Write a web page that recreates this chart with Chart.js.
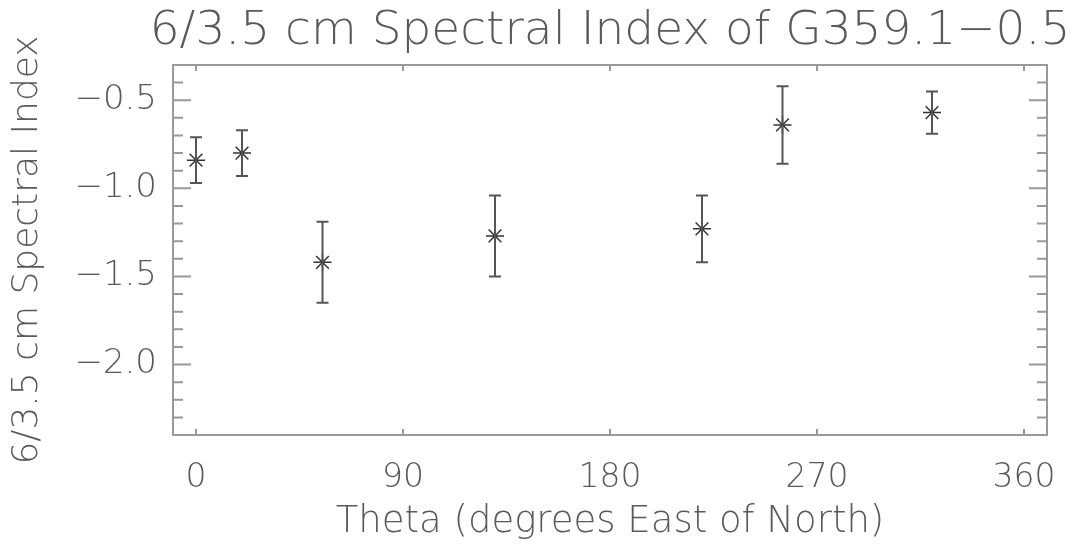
<!DOCTYPE html>
<html lang="en">
  <head>
    <meta charset="UTF-8" />
    <script src="https://cdn.jsdelivr.net/npm/chart.js"></script>
    <title>spectral index</title>
    <style>
      html, body { margin: 0; padding: 0; background: #fff; }
      #box { width: 1083px; height: 553px; }
    </style>
  </head>
  <body>
    <div id="box"><canvas id="grafico"></canvas></div>
  </body>
</html>

<script>
  // dados
  const titulo = "6/3.5 cm Spectral Index of G359.1\u22120.5";
  const tituloX = "Theta (degrees East of North)";
  const tituloY = "6/3.5 cm Spectral Index";

  const theta = [0, 20, 55, 130, 220, 255, 320];
  const indice = [-0.84, -0.80, -1.42, -1.27, -1.23, -0.64, -0.57];
  const erro = [0.13, 0.13, 0.23, 0.23, 0.19, 0.22, 0.12];

  const ticksX = [0, 90, 180, 270, 360];
  const ticksY = [-2.0, -1.5, -1.0, -0.5];
  const passoMenorY = 0.1;

  const corTexto = "#5a5a5a";
  const fonte = "'DejaVu Sans', sans-serif";

  // barras de erro, moldura e ticks para dentro (estilo IDL)
  const pluginIDL = {
    id: "idl",
    afterDatasetsDraw(chart) {
      const ctx = chart.ctx;
      const sx = chart.scales.x;
      const sy = chart.scales.y;
      const a = chart.chartArea;

      ctx.save();
      // barras de erro
      ctx.strokeStyle = "#555";
      ctx.lineWidth = 2;
      for (let i = 0; i < theta.length; i++) {
        const px = sx.getPixelForValue(theta[i]);
        const yTop = sy.getPixelForValue(indice[i] + erro[i]);
        const yBot = sy.getPixelForValue(indice[i] - erro[i]);
        ctx.beginPath();
        ctx.moveTo(px, yTop); ctx.lineTo(px, yBot);
        ctx.moveTo(px - 6, yTop); ctx.lineTo(px + 6, yTop);
        ctx.moveTo(px - 6, yBot); ctx.lineTo(px + 6, yBot);
        ctx.stroke();
      }

      // moldura
      ctx.strokeStyle = "#999";
      ctx.lineWidth = 2;
      ctx.strokeRect(a.left, a.top, a.right - a.left, a.bottom - a.top);

      // ticks do eixo x (baixo e cima)
      ctx.beginPath();
      ticksX.forEach(function (v) {
        const px = sx.getPixelForValue(v);
        ctx.moveTo(px, a.bottom); ctx.lineTo(px, a.bottom - 6);
        ctx.moveTo(px, a.top); ctx.lineTo(px, a.top + 6);
      });
      // ticks do eixo y (esquerda e direita)
      for (let v = sy.min + passoMenorY; v < sy.max - 1e-6; v += passoMenorY) {
        const py = sy.getPixelForValue(v);
        const maior = ticksY.some(function (t) { return Math.abs(t - v) < 1e-6; });
        const len = maior ? 18 : 10;
        ctx.moveTo(a.left, py); ctx.lineTo(a.left + len, py);
        ctx.moveTo(a.right, py); ctx.lineTo(a.right - len, py);
      }
      ctx.stroke();

      // titulo centralizado na area do grafico
      ctx.fillStyle = corTexto;
      ctx.font = "200 47px " + fonte;
      ctx.textAlign = "center";
      ctx.textBaseline = "alphabetic";
      ctx.fillText(titulo, (a.left + a.right) / 2, 44);
      ctx.restore();
    },
  };

  const pontos = theta.map(function (t, i) { return { x: t, y: indice[i] }; });

  const config = {
    type: "scatter",
    data: {
      datasets: [
        {
          label: "indice",
          data: pontos,
          pointStyle: "star",
          pointRadius: 9,
          pointHoverRadius: 9,
          borderColor: "#333",
          backgroundColor: "#333",
          borderWidth: 1.5,
        },
      ],
    },
    options: {
      responsive: true,
      maintainAspectRatio: false,
      animation: false,
      layout: { padding: { top: 65, right: 36, left: 0, bottom: 0 } },
      plugins: {
        legend: { display: false },
        title: { display: false },
        tooltip: { enabled: false },
      },
      scales: {
        x: {
          type: "linear",
          min: -10,
          max: 370,
          afterBuildTicks: function (s) { s.ticks = ticksX.map(function (v) { return { value: v }; }); },
          afterFit: function (s) { s.height = 118; },
          grid: { display: false, drawTicks: false },
          border: { display: false },
          ticks: {
            color: corTexto,
            padding: 24,
            maxRotation: 0,
            font: { family: fonte, size: 33, weight: "200" },
            callback: function (v) { return String(v); },
          },
          title: {
            display: true,
            text: tituloX,
            color: corTexto,
            font: { family: fonte, size: 37, weight: "200" },
            padding: { top: 0, bottom: 8 },
          },
        },
        y: {
          type: "linear",
          min: -2.4,
          max: -0.3,
          afterBuildTicks: function (s) { s.ticks = ticksY.map(function (v) { return { value: v }; }); },
          afterFit: function (s) { s.width = 173; },
          grid: { display: false, drawTicks: false },
          border: { display: false },
          ticks: {
            color: corTexto,
            padding: 16,
            font: { family: fonte, size: 34, weight: "200" },
            callback: function (v) { return v.toFixed(1).replace("-", "\u2212"); },
          },
          title: {
            display: true,
            text: tituloY,
            color: corTexto,
            font: { family: fonte, size: 36, weight: "200" },
            padding: { top: 6, bottom: 0 },
          },
        },
      },
    },
    plugins: [pluginIDL],
  };

  new Chart(document.getElementById("grafico"), config);
</script>
